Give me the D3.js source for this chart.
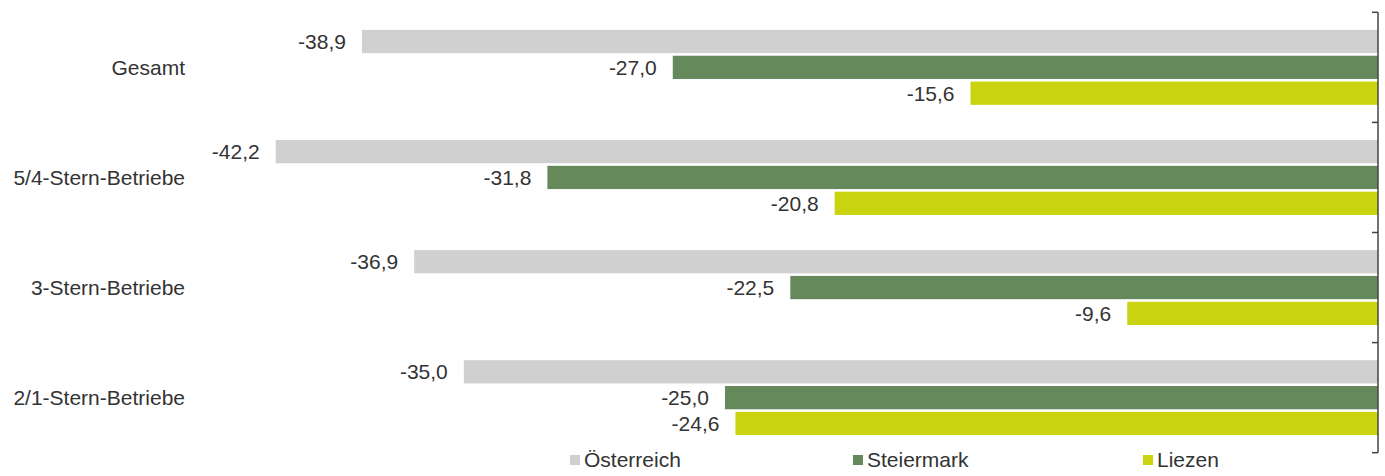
<!DOCTYPE html>
<html>
<head>
<meta charset="utf-8">
<script src="https://cdn.jsdelivr.net/npm/d3@7"></script>
<style>
  html, body { margin: 0; padding: 0; background: #fff; }
  svg { display: block; font-family: "Liberation Sans", Arial, sans-serif; }
</style>
</head>
<body>
<div id="chart"></div>
<script>
// Kategorien und Werte (Veränderung in %)
var categories = ['Gesamt', '5/4-Stern-Betriebe', '3-Stern-Betriebe', '2/1-Stern-Betriebe'];
var seriesNames = ['Österreich', 'Steiermark', 'Liezen'];
var oesterreich = [-38.9, -42.2, -36.9, -35.0];
var steiermark = [-27.0, -31.8, -22.5, -25.0];
var liezen = [-15.6, -20.8, -9.6, -24.6];
var colors = ['#d0d0d0', '#66895c', '#c9d30f'];

var width = 1385, height = 476;
var seriesValues = [oesterreich, steiermark, liezen];

var svg = d3.select('#chart')
    .append('svg')
    .attr('width', width)
    .attr('height', height);

// Skalen
var x = d3.scaleLinear()
    .domain([-45, 0])
    .range([202.6, 1378]);

var y = d3.scaleBand()
    .domain(categories)
    .range([12.3, 452.7])
    .paddingInner(0)
    .paddingOuter(0);

var y1 = d3.scaleBand()
    .domain(seriesNames)
    .range([0, y.bandwidth()])
    .paddingInner(0.1)
    .paddingOuter(0.68);

var fmt = function(v) { return d3.format('.1f')(v).replace('.', ',').replace('−', '-'); };

// Balken
var groups = svg.append('g').attr('class', 'groups')
    .selectAll('g')
    .data(categories)
    .enter()
    .append('g')
    .attr('transform', function(d) { return 'translate(0,' + y(d) + ')'; });

groups.selectAll('rect')
    .data(function(d, i) {
        return seriesNames.map(function(s, j) { return { series: s, idx: j, value: seriesValues[j][i] }; });
    })
    .enter()
    .append('rect')
    .attr('x', function(d) { return x(d.value); })
    .attr('y', function(d) { return y1(d.series); })
    .attr('width', function(d) { return x(0) - x(d.value); })
    .attr('height', y1.bandwidth())
    .attr('fill', function(d) { return colors[d.idx]; });

// Wertbeschriftungen
groups.selectAll('text')
    .data(function(d, i) {
        return seriesNames.map(function(s, j) { return { series: s, value: seriesValues[j][i] }; });
    })
    .enter()
    .append('text')
    .attr('x', function(d) { return x(d.value) - 16; })
    .attr('y', function(d) { return y1(d.series) + y1.bandwidth() / 2; })
    .attr('dy', '0.35em')
    .attr('text-anchor', 'end')
    .attr('font-size', '21px')
    .attr('fill', '#333')
    .text(function(d) { return fmt(d.value); });

// Kategorien
svg.append('g')
    .selectAll('text')
    .data(categories)
    .enter()
    .append('text')
    .attr('x', 185)
    .attr('y', function(d) { return y(d) + y.bandwidth() / 2; })
    .attr('dy', '0.35em')
    .attr('text-anchor', 'end')
    .attr('font-size', '21px')
    .attr('fill', '#333')
    .text(function(d) { return d; });

// Achse rechts
var axisTicks = categories.map(function(c) { return y(c); }).concat([y.range()[1]]);
svg.append('line')
    .attr('x1', x(0)).attr('x2', x(0))
    .attr('y1', y.range()[0]).attr('y2', y.range()[1])
    .attr('stroke', '#444').attr('stroke-width', 1.5);
svg.append('g')
    .selectAll('line')
    .data(axisTicks)
    .enter()
    .append('line')
    .attr('x1', x(0) - 6).attr('x2', x(0))
    .attr('y1', function(d) { return d; }).attr('y2', function(d) { return d; })
    .attr('stroke', '#444').attr('stroke-width', 1.5);

// Legende
var legendX = [570, 853, 1143];
var legend = svg.append('g')
    .selectAll('g')
    .data(seriesNames)
    .enter()
    .append('g')
    .attr('transform', function(d, i) { return 'translate(' + legendX[i] + ',460)'; });
legend.append('rect')
    .attr('x', 0).attr('y', -5)
    .attr('width', 10).attr('height', 10)
    .attr('fill', function(d, i) { return colors[i]; });
legend.append('text')
    .attr('x', 14)
    .attr('dy', '0.35em')
    .attr('font-size', '21px')
    .attr('fill', '#333')
    .text(function(d) { return d; });
</script>
</body>
</html>
